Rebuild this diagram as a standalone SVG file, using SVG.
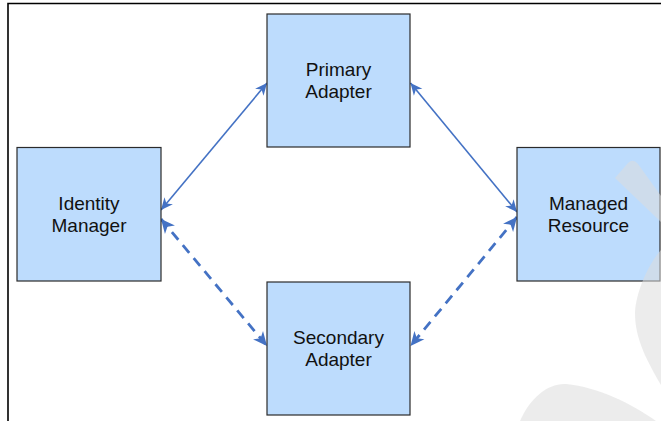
<svg xmlns="http://www.w3.org/2000/svg" width="661" height="421" viewBox="0 0 661 421">
  <style>
    .box { fill: #BDDCFD; stroke: #2b2b2b; stroke-width: 1.2; }
    .lbl { font-family: "Liberation Sans", Arial, sans-serif; font-size: 19px; fill: #111; text-anchor: middle; }
    .solid { fill: none; stroke: #4472C4; stroke-width: 1.6; }
    .dashed { fill: none; stroke: #4472C4; stroke-width: 2.8; stroke-dasharray: 10 7; }
    .wm { fill: #dcdcdc; opacity: 0.55; }
  </style>
  <defs>
    <marker id="ah" viewBox="-13 -6 14 12" refX="0" refY="0" markerWidth="14" markerHeight="12" markerUnits="userSpaceOnUse" orient="auto-start-reverse">
      <path d="M0,0 L-12,-5.5 L-8.5,0 L-12,5.5 Z" fill="#4472C4"/>
    </marker>
    <marker id="ahd" viewBox="-15 -7 16 14" refX="0" refY="0" markerWidth="16" markerHeight="14" markerUnits="userSpaceOnUse" orient="auto-start-reverse">
      <path d="M0,0 L-14,-6.5 L-10,0 L-14,6.5 Z" fill="#4472C4"/>
    </marker>
  </defs>
  <rect width="661" height="421" fill="#ffffff"/>
  <g id="frame">
    <path d="M8,421 V3.5 H661" fill="none" stroke="#000" stroke-width="1.6"/>
  </g>
  <g id="connectors">
    <line class="solid" x1="161" y1="210" x2="267" y2="83" marker-start="url(#ah)" marker-end="url(#ah)"/>
    <line class="solid" x1="410.5" y1="83" x2="517" y2="212" marker-start="url(#ah)" marker-end="url(#ah)"/>
    <line class="dashed" x1="161" y1="219" x2="267" y2="346" marker-start="url(#ahd)" marker-end="url(#ahd)"/>
    <line class="dashed" x1="517" y1="217" x2="410.5" y2="346" marker-start="url(#ahd)" marker-end="url(#ahd)"/>
  </g>
  <g id="primary-adapter">
    <rect class="box" x="267" y="14" width="143" height="133"/>
    <text class="lbl" x="338.5" y="76.3">Primary</text>
    <text class="lbl" x="338.5" y="98.3">Adapter</text>
  </g>
  <g id="identity-manager">
    <rect class="box" x="17" y="147.5" width="144" height="133.5"/>
    <text class="lbl" x="89" y="210.3">Identity</text>
    <text class="lbl" x="89" y="232.3">Manager</text>
  </g>
  <g id="managed-resource">
    <rect class="box" x="517" y="147.5" width="143" height="133.5"/>
    <text class="lbl" x="588.5" y="210.3">Managed</text>
    <text class="lbl" x="588.5" y="232.3">Resource</text>
  </g>
  <g id="secondary-adapter">
    <rect class="box" x="267" y="282" width="143" height="133"/>
    <text class="lbl" x="338.5" y="344.3">Secondary</text>
    <text class="lbl" x="338.5" y="366.3">Adapter</text>
  </g>
  <g id="watermark">
    <path class="wm" d="M615,178 L628,163 Q633,158 638,164 L661,196 L661,222 Z"/>
    <path class="wm" d="M661,250 C650,262 636,290 635,313 C635,340 648,362 661,385 Z"/>
    <path class="wm" d="M520,421 C530,398 548,383 566,384 C598,387 632,404 656,421 Z"/>
  </g>
</svg>
